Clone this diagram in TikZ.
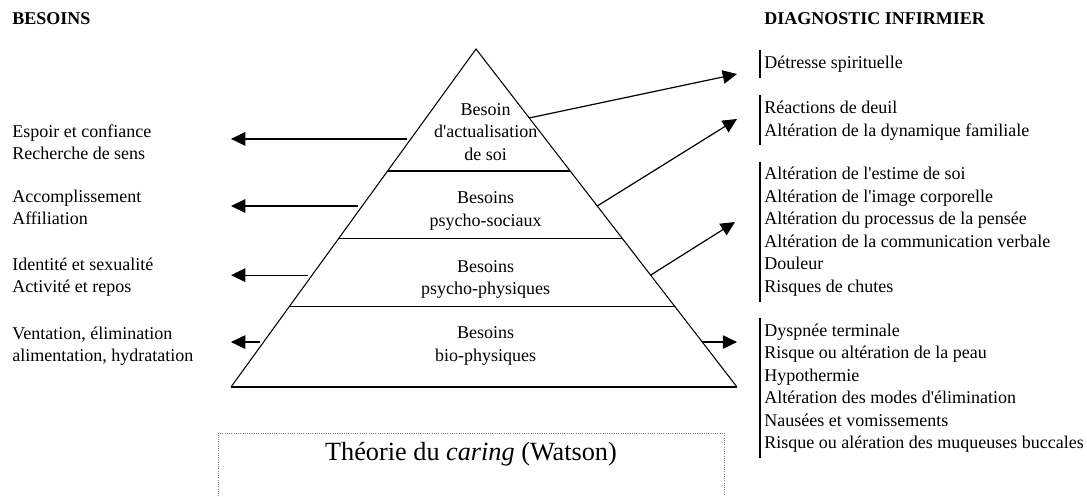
\documentclass[tikz,border=0pt]{standalone}
\usepackage{fontspec}
\setmainfont{Liberation Serif}
\usetikzlibrary{arrows.meta}
\usetikzlibrary{calc}

\tikzset{
	txt/.style={font=\fontsize{12}{15}\selectfont},
	lst/.style={txt, align=left, anchor=north west, inner xsep=0pt, inner ysep=1.5pt},
	diag/.style={lst, inner xsep=2.7pt,
		append after command={(\tikzlastnode.north west) edge[line width=1.4pt] (\tikzlastnode.south west)}},
	lvl/.style={txt, align=center, anchor=north, inner xsep=0pt, inner ysep=1.5pt},
	pyr/.style={line width=0.7pt},
	arr/.style={-{Triangle[length=9.5pt,width=9pt]}, line width=0.8pt},
}

\begin{document}
\begin{tikzpicture}[x=0.6667pt, y=-0.6667pt]
		\useasboundingbox (0,0) rectangle (1087,496);

		% headers
		\node[txt, anchor=base west, inner sep=0pt, font=\fontsize{12}{15}\selectfont\bfseries] (hbes) at (12,24) {BESOINS};
		\node[txt, anchor=base west, inner sep=0pt, font=\fontsize{12}{15}\selectfont\bfseries] (hdiag) at (764,24) {DIAGNOSTIC INFIRMIER};

		% pyramid
		\coordinate (apex) at (476,49);
		\coordinate (bl) at (231,387);
		\coordinate (br) at (737,387);
		\draw[pyr] (bl) -- (apex) -- (br);
		\draw[line width=1.4pt] (bl) -- (br);
		\draw[pyr] ($(apex)!0.361!(bl)$) -- ($(apex)!0.361!(br)$);
		\draw[pyr] ($(apex)!0.562!(bl)$) -- ($(apex)!0.562!(br)$);
		\draw[pyr] ($(apex)!0.763!(bl)$) -- ($(apex)!0.763!(br)$);

		\node[lvl] (p1) at (485.7,97) {\strut Besoin\\d\textquotesingle actualisation\\de soi\strut};
		\node[lvl] (p2) at (485.7,185.3) {\strut Besoins\\psycho-sociaux\strut};
		\node[lvl] (p3) at (485.7,253.7) {\strut Besoins\\psycho-physiques\strut};
		\node[lvl] (p4) at (485.7,320.3) {\strut Besoins\\bio-physiques\strut};

		% needs
		\node[lst] (b1) at (12,119) {\strut Espoir et confiance\\Recherche de sens\strut};
		\node[lst] (b2) at (12,184) {\strut Accomplissement\\Affiliation\strut};
		\node[lst] (b3) at (12,252) {\strut Identit\'e et sexualit\'e\\Activit\'e et repos\strut};
		\node[lst] (b4) at (12,321) {\strut Ventation, \'elimination\\alimentation, hydratation\strut};

		% diagnoses
		\node[diag] (d1) at (760,50.3) {\strut D\'etresse spirituelle\strut};
		\node[diag] (d2) at (760,95.3) {\strut R\'eactions de deuil\\Alt\'eration de la dynamique familiale\strut};
		\node[diag] (d3) at (760,161.5) {\strut Alt\'eration de l\textquotesingle estime de soi\\Alt\'eration de l\textquotesingle image corporelle\\Alt\'eration du processus de la pens\'ee\\Alt\'eration de la communication verbale\\Douleur\\Risques de chutes\strut};
		\node[diag] (d4) at (760,318) {\strut Dyspn\'ee terminale\\Risque ou alt\'eration de la peau\\Hypothermie\\Alt\'eration des modes d\textquotesingle\'elimination\\Naus\'ees et vomissements\\Risque ou al\'eration des muqueuses buccales\strut};

		% arrows to the left
		\coordinate (lx) at (231,0);
		\coordinate (l1) at ($(apex)!0.266!(bl)+(-4,0)$);
		\coordinate (l2) at ($(apex)!0.4645!(bl)+(-4,0)$);
		\coordinate (l3) at ($(apex)!0.669!(bl)+(-4,0)$);
		\coordinate (l4) at ($(apex)!0.867!(bl)+(-4,0)$);
		\draw[arr] (l1) -- (l1 -| lx);
		\draw[arr] (l2) -- (l2 -| lx);
		\draw[arr] (l3) -- (l3 -| lx);
		\draw[arr] (l4) -- (l4 -| lx);

		% arrows to the right
		\coordinate (r1) at ($(apex)!0.204!(br)$);
		\coordinate (r2) at ($(apex)!0.4645!(br)$);
		\coordinate (r3) at ($(apex)!0.669!(br)$);
		\coordinate (r4) at ($(apex)!0.867!(br)$);
		\coordinate (e1) at (737,74);
		\coordinate (e2) at (737,119);
		\coordinate (e3) at (735,222);
		\coordinate (ex) at (737,0);
		\draw[arr] (r1) -- (e1);
		\draw[arr] (r2) -- (e2);
		\draw[arr] (r3) -- (e3);
		\draw[arr] (r4) -- (r4 -| ex);

		% theory box, cut at the bottom
		\node[anchor=base, inner sep=0pt, font=\fontsize{17.5}{21}\selectfont] (theory) at (471,460) {Th\'eorie du \textit{caring} (Watson)};
		\draw[gray, densely dotted, line width=0.5pt] (218,496) -- (218,433) -- (724,433) -- (724,496);
		\end{tikzpicture}
\end{document}
